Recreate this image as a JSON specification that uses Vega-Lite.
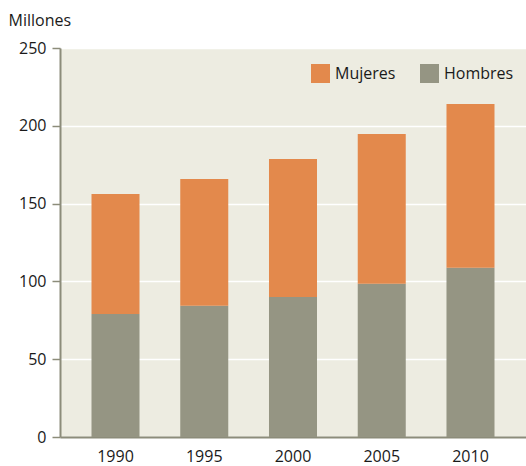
{
  "$schema": "https://vega.github.io/schema/vega-lite/v6.json",
  "width": 466,
  "height": 389,
  "autosize": {"type": "none"},
  "padding": {"left": 60, "top": 48, "right": 0, "bottom": 29},
  "background": "#ffffff",
  "config": {
    "view": {"fill": "#EDECE1", "stroke": null},
    "font": "Open Sans"
  },
  "data": {
    "values": [
      {"year": "1990", "sexo": "Hombres", "valor": 79.0, "orden": 1},
      {"year": "1990", "sexo": "Mujeres", "valor": 77.2, "orden": 2},
      {"year": "1995", "sexo": "Hombres", "valor": 84.4, "orden": 1},
      {"year": "1995", "sexo": "Mujeres", "valor": 81.4, "orden": 2},
      {"year": "2000", "sexo": "Hombres", "valor": 90.0, "orden": 1},
      {"year": "2000", "sexo": "Mujeres", "valor": 88.7, "orden": 2},
      {"year": "2005", "sexo": "Hombres", "valor": 98.5, "orden": 1},
      {"year": "2005", "sexo": "Mujeres", "valor": 96.2, "orden": 2},
      {"year": "2010", "sexo": "Hombres", "valor": 108.8, "orden": 1},
      {"year": "2010", "sexo": "Mujeres", "valor": 105.2, "orden": 2}
    ]
  },
  "mark": {"type": "bar"},
  "encoding": {
    "x": {
      "field": "year",
      "type": "nominal",
      "scale": {"paddingInner": 0.459, "paddingOuter": 0.355},
      "axis": {
        "title": null,
        "labelAngle": 0,
        "labelFontSize": 16,
        "labelColor": "#1a1a1a",
        "labelPadding": 11,
        "ticks": false,
        "domain": true,
        "domainColor": "#8C8C7A",
        "domainWidth": 2
      }
    },
    "y": {
      "field": "valor",
      "type": "quantitative",
      "stack": "zero",
      "scale": {"domain": [0, 250], "nice": false},
      "axis": {
        "values": [0, 50, 100, 150, 200, 250],
        "title": "Millones",
        "titleAngle": 0,
        "titleAlign": "left",
        "titleBaseline": "middle",
        "titleX": -52,
        "titleY": -28,
        "titleFontSize": 16,
        "titleFontWeight": "normal",
        "titleColor": "#1a1a1a",
        "labelFontSize": 16,
        "labelColor": "#1a1a1a",
        "labelPadding": 6,
        "tickSize": 8,
        "tickColor": "#8C8C7A",
        "tickWidth": 1.5,
        "domainColor": "#8C8C7A",
        "domainWidth": 2,
        "grid": true,
        "gridColor": "#ffffff",
        "gridWidth": 1.5
      }
    },
    "color": {
      "field": "sexo",
      "type": "nominal",
      "scale": {"domain": ["Mujeres", "Hombres"], "range": ["#E3894C", "#959583"]},
      "legend": {
        "title": null,
        "orient": "none",
        "direction": "horizontal",
        "legendX": 251,
        "legendY": 16,
        "symbolType": "square",
        "symbolSize": 361,
        "symbolStrokeWidth": 0,
        "symbolOpacity": 1,
        "labelFontSize": 16,
        "labelColor": "#1a1a1a",
        "labelOffset": 5,
        "columnPadding": 24
      }
    },
    "order": {"field": "orden", "type": "quantitative"}
  }
}
